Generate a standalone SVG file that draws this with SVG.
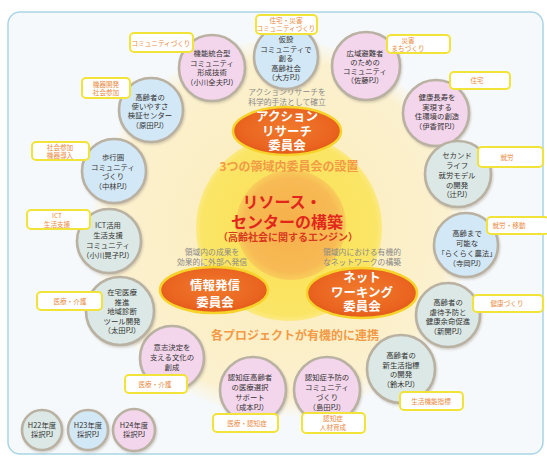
<svg xmlns="http://www.w3.org/2000/svg" width="547" height="460" viewBox="0 0 547 460">
<defs>
<radialGradient id="gPale" cx="0.5" cy="0.5" r="0.5">
<stop offset="0" stop-color="#fbecb8"/>
<stop offset="0.9" stop-color="#fcf1cf"/>
<stop offset="1" stop-color="#fcf3d8" stop-opacity="0.2"/>
</radialGradient>
<radialGradient id="gYellow" cx="0.5" cy="0.5" r="0.5">
<stop offset="0" stop-color="#fae052"/>
<stop offset="0.94" stop-color="#fbe566"/>
<stop offset="1" stop-color="#fbea84"/>
</radialGradient>
<radialGradient id="gCore" cx="0.5" cy="0.5" r="0.5">
<stop offset="0" stop-color="#f6b04a"/>
<stop offset="0.85" stop-color="#f7ba54"/>
<stop offset="1" stop-color="#f9cd5c"/>
</radialGradient>
<radialGradient id="gOrange" cx="0.5" cy="0.45" r="0.55">
<stop offset="0" stop-color="#f07a2c"/>
<stop offset="0.8" stop-color="#ea6420"/>
<stop offset="1" stop-color="#e25818"/>
</radialGradient>
<filter id="sh" x="-20%" y="-20%" width="140%" height="140%">
<feDropShadow dx="1" dy="1.5" stdDeviation="1.2" flood-color="#8a8070" flood-opacity="0.35"/>
</filter>
</defs>
<style>
text{font-family:"Noto Sans CJK JP","Noto Sans",sans-serif}
.node circle{stroke:#b9b1a2;stroke-width:2.6;filter:url(#sh)}
.pink circle{fill:#f3d5ec}
.blue circle{fill:#d3e8f6}
.green circle{fill:#dbe8e5}
.nt{font-size:7.4px;fill:#333;text-anchor:middle}
.tag rect{fill:#fff;stroke:#f2e338;stroke-width:2}
.tag text{font-size:6.6px;fill:#e98a3e;text-anchor:middle}
.desc{font-size:7.8px;fill:#8a8a8a;text-anchor:middle}
.cm{font-size:12.5px;font-weight:bold;fill:#fff;text-anchor:middle}
.ell{fill:url(#gOrange);stroke:#f6d22a;stroke-width:2.5}
.hl{font-size:12px;font-weight:bold;fill:#f29a45;text-anchor:middle}
.ctr{font-size:16px;font-weight:bold;fill:#e3261c;text-anchor:middle}
</style>
<rect x="0" y="0" width="547" height="460" fill="#ffffff"/>
<rect x="8" y="12" width="535" height="442" rx="12" fill="#f6f9fb" stroke="#a9d5e6" stroke-width="1.5"/>
<circle cx="280" cy="228" r="188" fill="url(#gPale)"/>
<g id="center">
<circle cx="289" cy="228" r="93" fill="url(#gYellow)"/>
<circle cx="291" cy="225" r="55" fill="url(#gCore)"/>
<text class="ctr"><tspan x="282" y="208">リソース・</tspan><tspan x="287" y="228">センターの構築</tspan><tspan x="288" y="241" font-size="10px" fill="#d8381e">（高齢社会に関するエンジン）</tspan></text>
<text class="hl" x="289" y="170.5">3つの領域内委員会の設置</text>
<text class="hl" x="295" y="340">各プロジェクトが有機的に連携</text>
</g>
<g id="committee-action">
<text class="desc"><tspan x="287" y="95">アクションリサーチを</tspan><tspan x="287" y="105">科学的手法として確立</tspan></text>
<ellipse class="ell" cx="287" cy="131" rx="54" ry="24"/>
<text class="cm"><tspan x="287" y="121">アクション</tspan><tspan x="287" y="135.5">リサーチ</tspan><tspan x="287" y="150">委員会</tspan></text>
</g>
<g id="committee-info">
<text class="desc"><tspan x="212" y="255">領域内の成果を</tspan><tspan x="212" y="265">効果的に外部へ発信</tspan></text>
<ellipse class="ell" cx="214" cy="290" rx="54" ry="23"/>
<text class="cm"><tspan x="215" y="290">情報発信</tspan><tspan x="215" y="307">委員会</tspan></text>
</g>
<g id="committee-network">
<text class="desc"><tspan x="362" y="255">領域内における有機的</tspan><tspan x="362" y="265">なネットワークの構築</tspan></text>
<ellipse class="ell" cx="362" cy="293" rx="55" ry="25"/>
<text class="cm"><tspan x="362" y="282">ネット</tspan><tspan x="362" y="296.5">ワーキング</tspan><tspan x="362" y="311">委員会</tspan></text>
</g>
<g id="connectors"></g>
<g id="n-ogawa-z" class="node pink">
<circle cx="212" cy="68" r="33"/>
<text class="nt"><tspan x="212" y="56">機能統合型</tspan><tspan x="212" y="65.5">コミュニティ</tspan><tspan x="212" y="75">形成技術</tspan><tspan x="212" y="84.5">（小川全夫PJ）</tspan></text>
</g>
<g id="n-okata" class="node blue">
<circle cx="286" cy="57" r="32"/>
<text class="nt"><tspan x="286" y="42">仮設</tspan><tspan x="286" y="51.5">コミュニティで</tspan><tspan x="286" y="61">創る</tspan><tspan x="286" y="70.5">高齢社会</tspan><tspan x="286" y="80">（大方PJ）</tspan></text>
</g>
<g id="n-sato" class="node pink">
<circle cx="366" cy="66" r="34"/>
<text class="nt"><tspan x="365" y="56">広域避難者</tspan><tspan x="365" y="65">のための</tspan><tspan x="365" y="74">コミュニティ</tspan><tspan x="365" y="83">（佐藤PJ）</tspan></text>
</g>
<g id="n-ikaga" class="node pink">
<circle cx="436" cy="113" r="33"/>
<text class="nt"><tspan x="437" y="100">健康長寿を</tspan><tspan x="437" y="109.5">実現する</tspan><tspan x="437" y="119">住環境の創造</tspan><tspan x="437" y="128.5">（伊香賀PJ）</tspan></text>
</g>
<g id="n-tsuji" class="node green">
<circle cx="458" cy="174" r="33"/>
<text class="nt"><tspan x="457" y="158">セカンド</tspan><tspan x="457" y="168">ライフ</tspan><tspan x="457" y="178">就労モデル</tspan><tspan x="457" y="187.5">の開発</tspan><tspan x="457" y="197">（辻PJ）</tspan></text>
</g>
<g id="n-teraoka" class="node blue">
<circle cx="466" cy="245" r="32"/>
<text class="nt"><tspan x="467" y="236">高齢まで</tspan><tspan x="467" y="246">可能な</tspan><tspan x="467" y="256">「らくらく農法」</tspan><tspan x="467" y="266">（寺岡PJ）</tspan></text>
</g>
<g id="n-shinkai" class="node green">
<circle cx="448" cy="315" r="32"/>
<text class="nt"><tspan x="448" y="305">高齢者の</tspan><tspan x="448" y="314.5">虐待予防と</tspan><tspan x="448" y="324">健康余命促進</tspan><tspan x="448" y="333.5">（新開PJ）</tspan></text>
</g>
<g id="n-suzuki" class="node green">
<circle cx="401" cy="369" r="34"/>
<text class="nt"><tspan x="401" y="358">高齢者の</tspan><tspan x="401" y="367.5">新生活指標</tspan><tspan x="401" y="377">の開発</tspan><tspan x="401" y="386.5">（鈴木PJ）</tspan></text>
</g>
<g id="n-shimada" class="node pink">
<circle cx="327" cy="390" r="33"/>
<text class="nt"><tspan x="327" y="380">認知症予防の</tspan><tspan x="327" y="390">コミュニティ</tspan><tspan x="327" y="400">づくり</tspan><tspan x="327" y="410">（島田PJ）</tspan></text>
</g>
<g id="n-narumoto" class="node pink">
<circle cx="253" cy="390" r="33"/>
<text class="nt"><tspan x="250" y="380">認知症高齢者</tspan><tspan x="250" y="390">の医療選択</tspan><tspan x="250" y="400">サポート</tspan><tspan x="250" y="410">（成本PJ）</tspan></text>
</g>
<g id="n-shimizu" class="node pink">
<circle cx="172" cy="358" r="32"/>
<text class="nt"><tspan x="172" y="350">意志決定を</tspan><tspan x="172" y="360">支える文化の</tspan><tspan x="172" y="370">創成</tspan><tspan x="172" y="380">（清水PJ）</tspan></text>
</g>
<g id="n-ota" class="node green">
<circle cx="120" cy="311" r="34"/>
<text class="nt"><tspan x="122" y="295">在宅医療</tspan><tspan x="122" y="304.5">推進</tspan><tspan x="122" y="314">地域診断</tspan><tspan x="122" y="323.5">ツール開発</tspan><tspan x="122" y="333">（太田PJ）</tspan></text>
</g>
<g id="n-ogawa-a" class="node green">
<circle cx="109" cy="241" r="32"/>
<text class="nt"><tspan x="108" y="228">ICT活用</tspan><tspan x="108" y="238">生活支援</tspan><tspan x="108" y="248">コミュニティ</tspan><tspan x="108" y="258">（小川晃子PJ）</tspan></text>
</g>
<g id="n-nakabayashi" class="node blue">
<circle cx="114" cy="171" r="32"/>
<text class="nt"><tspan x="113" y="160">歩行圏</tspan><tspan x="113" y="170">コミュニティ</tspan><tspan x="113" y="179">づくり</tspan><tspan x="113" y="189">（中林PJ）</tspan></text>
</g>
<g id="n-harada" class="node blue">
<circle cx="151" cy="110" r="32"/>
<text class="nt"><tspan x="150" y="100">高齢者の</tspan><tspan x="150" y="109">使いやすさ</tspan><tspan x="150" y="118">検証センター</tspan><tspan x="150" y="128">（原田PJ）</tspan></text>
</g>
<g id="t-a" class="tag"><rect x="130" y="33" width="63" height="19" rx="4"/><text x="161" y="45.5">コミュニティづくり</text></g>
<g id="t-b" class="tag"><rect x="256" y="15" width="61" height="19" rx="4"/><text><tspan x="286" y="22.5">住宅・災害</tspan><tspan x="286" y="31">コミュニティづくり</tspan></text></g>
<g id="t-c" class="tag"><rect x="387" y="35" width="63" height="18" rx="4"/><text><tspan x="408" y="42.5">災害</tspan><tspan x="408" y="50.5">まちづくり</tspan></text></g>
<g id="t-d" class="tag"><rect x="450" y="72" width="60" height="17" rx="4"/><text x="477" y="83">住宅</text></g>
<g id="t-e" class="tag"><rect x="478" y="147" width="65" height="20" rx="4"/><text x="507" y="159.5">就労</text></g>
<g id="t-f" class="tag"><rect x="487" y="217" width="62" height="17" rx="4"/><text x="509" y="228">就労・移動</text></g>
<g id="t-g" class="tag"><rect x="473" y="295" width="70" height="17" rx="4"/><text x="507" y="306">健康づくり</text></g>
<g id="t-h" class="tag"><rect x="400" y="392" width="63" height="18" rx="4"/><text x="431" y="404">生活機能指標</text></g>
<g id="t-i" class="tag"><rect x="302" y="413" width="63" height="20" rx="4"/><text><tspan x="333" y="420.5">認知症</tspan><tspan x="333" y="430">人材育成</tspan></text></g>
<g id="t-j" class="tag"><rect x="213" y="414" width="65" height="18" rx="4"/><text x="247" y="426">医療・認知症</text></g>
<g id="t-k" class="tag"><rect x="125" y="375" width="62" height="18" rx="4"/><text x="155" y="387">医療・介護</text></g>
<g id="t-l" class="tag"><rect x="37" y="292" width="65" height="18" rx="4"/><text x="70" y="304">医療・介護</text></g>
<g id="t-m" class="tag"><rect x="27" y="210" width="63" height="19" rx="4"/><text><tspan x="57" y="218">ICT</tspan><tspan x="57" y="226.5">生活支援</tspan></text></g>
<g id="t-n" class="tag"><rect x="32" y="142" width="57" height="18" rx="4"/><text><tspan x="60" y="149.5">社会参加</tspan><tspan x="60" y="157.5">機器導入</tspan></text></g>
<g id="t-o" class="tag"><rect x="82" y="78" width="48" height="20" rx="4"/><text><tspan x="106" y="86.5">機器開発</tspan><tspan x="106" y="95">社会参加</tspan></text></g>
<g id="legend-h22" class="node green"><circle cx="42" cy="430" r="20"/><text class="nt"><tspan x="42" y="428">H22年度</tspan><tspan x="42" y="437">採択PJ</tspan></text></g>
<g id="legend-h23" class="node blue"><circle cx="88" cy="430" r="20"/><text class="nt"><tspan x="88" y="428">H23年度</tspan><tspan x="88" y="437">採択PJ</tspan></text></g>
<g id="legend-h24" class="node pink"><circle cx="134" cy="430" r="21"/><text class="nt"><tspan x="134" y="428">H24年度</tspan><tspan x="134" y="437">採択PJ</tspan></text></g>
</svg>
